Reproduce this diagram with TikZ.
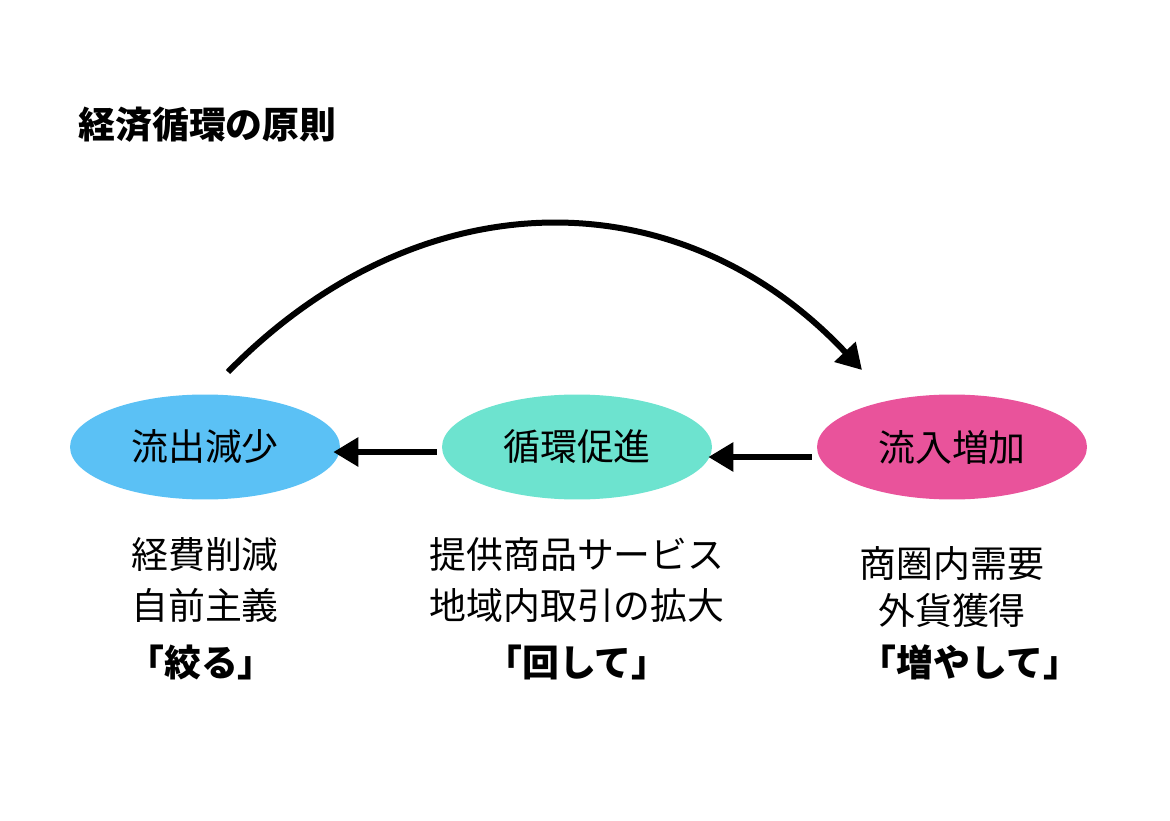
\documentclass[tikz,border=0pt]{standalone}
\usepackage{fontspec}
\setmainfont{Noto Sans CJK JP}
\usetikzlibrary{shapes.geometric,arrows.meta,positioning}

\definecolor{outblue}{HTML}{5BC1F5}
\definecolor{cycgreen}{HTML}{6DE3CF}
\definecolor{inpink}{HTML}{E9539B}

\tikzset{
  stage/.style={ellipse,minimum width=5.4cm,minimum height=2.1cm,inner sep=0pt,
    font=\fontsize{21}{25}\selectfont},
  note/.style={align=center,inner sep=0pt,font=\fontsize{21}{28.5}\selectfont},
  motto/.style={inner sep=0pt,font=\fontsize{21}{25}\selectfont\bfseries},
  flow/.style={line width=0.12cm,-{Triangle[length=0.5cm,width=0.56cm]}},
}

\begin{document}
\begin{tikzpicture}[x=0.02cm,y=-0.02cm]
  \useasboundingbox (0,0) rectangle (1170,821);

  % Title

  \node[motto,anchor=west] (title) at (78,125) {経済循環の原則};

  % Nodes

  \node[stage,fill=outblue] (out_dec) at (205,447) {流出減少};
  \node[stage,fill=cycgreen] (cyc_up) at (577,447) {循環促進};
  \node[stage,fill=inpink] (in_inc) at (952,447) {流入増加};

  % Notes

  \node[note] (out_note) at (205,580) {経費削減\\自前主義};
  \node[note] (cyc_note) at (577,580) {提供商品サービス\\地域内取引の拡大};
  \node[note] (in_note) at (952,587) {商圏内需要\\[-1.7pt]外貨獲得};

  \node[motto] (out_motto) at (201,662) {「絞る」};
  \node[motto] (cyc_motto) at (577,662) {「回して」};
  \node[motto] (in_motto) at (970,662) {「増やして」};

  % Edges

  \coordinate (loop_start) at (228,372);
  \coordinate (loop_end) at (862,370);

  \draw[flow] ([xshift=-0.1cm,yshift=-0.1cm]cyc_up.west) -- ([xshift=-0.14cm,yshift=-0.1cm]out_dec.east) ; %
  \draw[flow] ([xshift=-0.1cm,yshift=-0.2cm]in_inc.west) -- ([xshift=-0.08cm,yshift=-0.2cm]cyc_up.east) ; %
  \draw[flow] (loop_start) .. controls (420,176) and (680,176) .. (loop_end) ; %

\end{tikzpicture}
\end{document}
